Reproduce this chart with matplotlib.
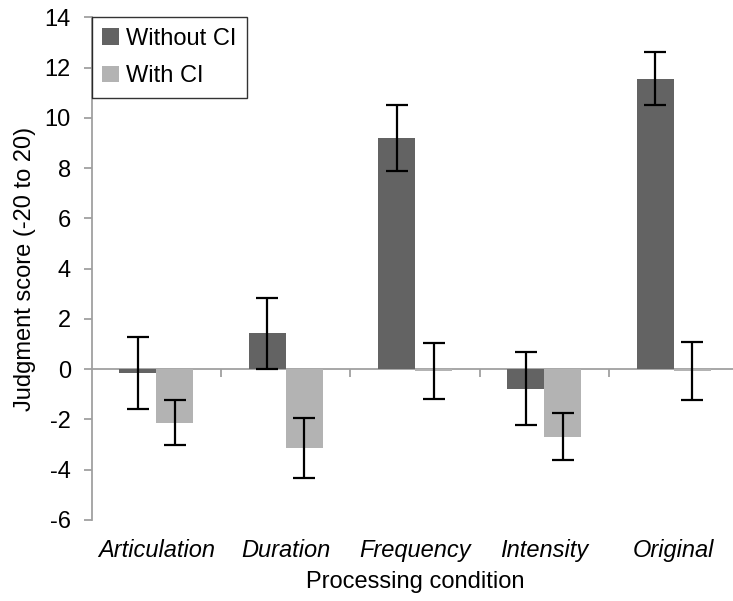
import matplotlib.pyplot as plt
import matplotlib.transforms as mtransforms
import numpy as np

plt.rcParams["font.family"] = ["Liberation Sans", "DejaVu Sans"]
plt.rcParams["axes.unicode_minus"] = False

conditions = ["Articulation", "Duration", "Frequency", "Intensity", "Original"]
without_ci = [-0.14, 1.42, 9.20, -0.77, 11.56]
without_ci_err = [1.43, 1.40, 1.32, 1.44, 1.05]
with_ci = [-2.13, -3.13, -0.08, -2.68, -0.06]
with_ci_err = [0.90, 1.18, 1.12, 0.93, 1.15]

dark = "#636363"
light = "#b3b3b3"
axis_grey = "#a0a0a0"
fs = 17

fig = plt.figure(figsize=(7.33, 6.01), dpi=100)
ax = fig.add_axes([0.1251, 0.1348, 0.8824, 0.8364])

x = np.arange(len(conditions))
w = 0.286
err_kw = dict(ecolor="black", elinewidth=1.6, capsize=8, capthick=1.6)

ax.bar(x - w / 2, without_ci, w, color=dark, label="Without CI",
       yerr=without_ci_err, error_kw=err_kw, zorder=2)
ax.bar(x + w / 2, with_ci, w, color=light, label="With CI",
       yerr=with_ci_err, error_kw=err_kw, zorder=2)

ax.set_xlim(-0.5, len(conditions) - 0.5)
ax.set_ylim(-6, 14)
ax.set_yticks(np.arange(-6, 15, 2))

# category axis sits on y = 0, with ticks between groups
ax.spines["bottom"].set_position(("data", 0))
ax.spines["bottom"].set_color(axis_grey)
ax.spines["bottom"].set_linewidth(1.3)
ax.spines["bottom"].set_zorder(1)
ax.spines["left"].set_color(axis_grey)
ax.spines["left"].set_linewidth(1.3)
ax.spines["top"].set_visible(False)
ax.spines["right"].set_visible(False)

ax.set_xticks(np.arange(0.5, len(conditions) - 0.5, 1.0))
ax.tick_params(axis="x", direction="out", length=6, width=1.3,
               color=axis_grey, labelbottom=False)
ax.tick_params(axis="y", direction="out", length=6, width=1.3,
               color=axis_grey, labelsize=fs, pad=9)

trans = mtransforms.blended_transform_factory(ax.transData, ax.transAxes)
for xi, name in zip(x, conditions):
    ax.text(xi, -0.06, name, transform=trans, ha="center", va="center",
            fontsize=fs, style="italic")

ax.text(0.5, -0.124, "Processing condition", transform=ax.transAxes,
        ha="center", va="center", fontsize=fs)
ax.set_ylabel("Judgment score (-20 to 20)", fontsize=fs, labelpad=6)

leg = ax.legend(loc="upper left", bbox_to_anchor=(0.0, 1.0), borderaxespad=0,
                fancybox=False, fontsize=fs, handlelength=0.7,
                handleheight=0.7, handletextpad=0.3, labelspacing=0.65,
                borderpad=0.45)
leg.get_frame().set_edgecolor("black")
leg.get_frame().set_linewidth(1.0)

fig.savefig("out.png", dpi=100)
